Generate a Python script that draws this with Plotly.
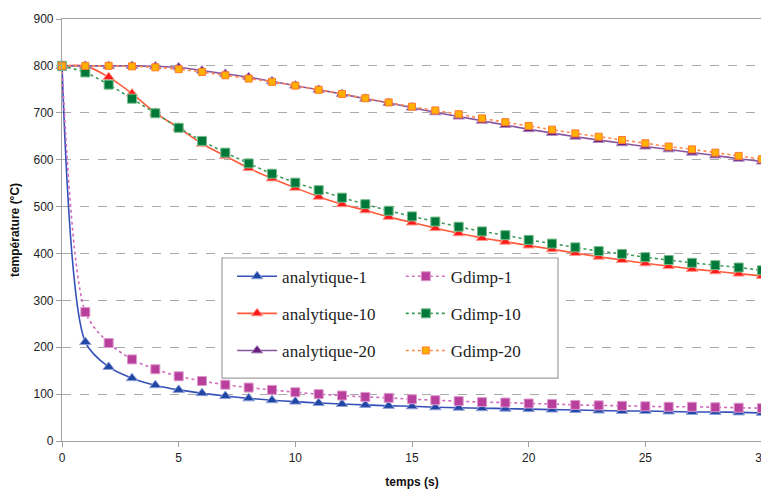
import plotly.graph_objects as go

temps = list(range(0, 31))

analytique_1 = [800, 211, 158, 134, 119, 109, 102, 96, 91, 87, 84, 81, 79, 77, 75, 74,
                72, 71, 70, 69, 68, 67, 66, 65, 64, 64, 63, 62, 62, 61, 60]
gdimp_1 = [800, 275, 209, 174, 153, 138, 128, 120, 114, 109, 104, 100, 97, 94, 92, 89,
           87, 85, 83, 82, 80, 79, 77, 76, 75, 74, 73, 73, 72, 71, 70]
analytique_10 = [800, 800, 776, 741, 700, 668, 634, 608, 582, 560, 540, 521, 505, 492, 478, 466,
                 454, 443, 433, 425, 417, 409, 401, 393, 386, 379, 373, 367, 362, 357, 352]
gdimp_10 = [800, 786, 760, 730, 699, 668, 640, 615, 592, 570, 551, 535, 519, 505, 491, 479,
            468, 457, 447, 439, 429, 421, 413, 405, 399, 392, 386, 380, 375, 370, 364]
analytique_20 = [800, 800, 800, 800, 799, 797, 790, 783, 776, 767, 758, 749, 740, 730, 721, 711,
                 701, 692, 683, 674, 665, 657, 649, 642, 635, 628, 622, 615, 609, 602, 596]
gdimp_20 = [800, 800, 800, 799, 797, 793, 787, 780, 773, 766, 758, 749, 740, 731, 722, 713,
            705, 697, 688, 680, 672, 664, 656, 649, 642, 635, 628, 622, 615, 608, 601]

x_ticks = [0, 5, 10, 15, 20, 25, 30]
y_ticks = [0, 100, 200, 300, 400, 500, 600, 700, 800, 900]

fig = go.Figure()

def add(name, y, line_color, dash, sym, mcol, mline, msize, legend, group):
    fig.add_trace(go.Scatter(
        x=temps, y=y, name=name, mode="lines+markers",
        line=dict(color=line_color, width=1.6, dash=dash, shape="spline", smoothing=0.8),
        marker=dict(symbol=sym, color=mcol, size=msize, line=dict(color=mline, width=1)),
        legend=legend, legendgroup=group, cliponaxis=False,
    ))

add("analytique-1", analytique_1, "#3550b8", "solid", "triangle-up", "#1f45a5", "#8fa0d8", 10, "legend", "a1")
add("analytique-10", analytique_10, "#ff5a3a", "solid", "triangle-up", "#ff1a1a", "#ff9a8a", 10, "legend", "a10")
add("analytique-20", analytique_20, "#8a55a0", "solid", "triangle-up", "#6a1f80", "#b090c0", 10, "legend", "a20")
add("Gdimp-1", gdimp_1, "#cf6cbe", "dot", "square", "#b8409c", "#dd99cc", 9, "legend2", "g1")
add("Gdimp-10", gdimp_10, "#3f9a5c", "dot", "square", "#00783a", "#77bb88", 9, "legend2", "g10")
add("Gdimp-20", gdimp_20, "#ff8a50", "dot", "square", "#ffb000", "#ff7a30", 7, "legend2", "g20")

axis_common = dict(
    showline=True, linecolor="#a0a0a0", linewidth=1.2, mirror=True,
    ticks="outside", ticklen=5, tickcolor="#a0a0a0",
    tickfont=dict(family="Liberation Sans, Arial", size=12, color="#222"),
    zeroline=False, automargin=False,
)

legend_font = dict(family="Liberation Serif, serif", size=17, color="#222")

# page has an 8px body margin, so the figure is sized to fit the 769x489 window
fig.update_layout(
    width=761, height=481,
    margin=dict(l=54, r=7, t=11, b=48, autoexpand=False),
    paper_bgcolor="white", plot_bgcolor="white",
    xaxis=dict(range=[0, 30], tickvals=x_ticks, showgrid=False,
               title=dict(text="<b>temps (s)</b>", font=dict(family="Liberation Sans, Arial", size=12, color="#111")),
               **axis_common),
    yaxis=dict(range=[0, 900], tickvals=y_ticks, showgrid=True, gridcolor="#aaaaaa",
               griddash="dash", gridwidth=1,
               title=dict(text="<b>température (°C)</b>", font=dict(family="Liberation Sans, Arial", size=12, color="#111")),
               **axis_common),
    legend=dict(x=0.243, y=0.432, xanchor="left", yanchor="top", bgcolor="rgba(0,0,0,0)",
                font=legend_font, tracegroupgap=12, itemwidth=40),
    legend2=dict(x=0.484, y=0.432, xanchor="left", yanchor="top", bgcolor="rgba(0,0,0,0)",
                 font=legend_font, tracegroupgap=12, itemwidth=40),
    shapes=[dict(type="rect", xref="paper", yref="paper", x0=0.2286, x1=0.7086, y0=0.149, y1=0.4336,
                 line=dict(color="#a0a0a0", width=1.2), fillcolor="white", layer="above")],
)

fig.write_html("out.html")
